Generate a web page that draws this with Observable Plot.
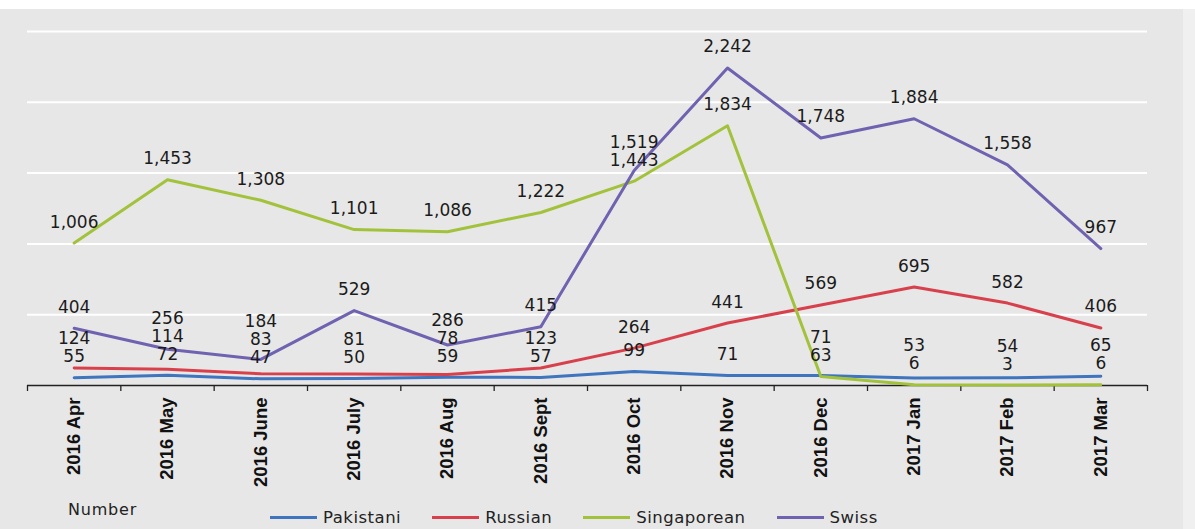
<!DOCTYPE html>
<html><head><meta charset="utf-8">
<script src="https://cdn.jsdelivr.net/npm/d3@7"></script>
<script src="https://cdn.jsdelivr.net/npm/@observablehq/plot@0.6"></script>
<style>
html,body{margin:0;padding:0;}
body{width:1195px;height:529px;background:#e7e7e7;position:relative;overflow:hidden;font-family:"DejaVu Sans",sans-serif;}
#topstrip{position:absolute;left:0;top:0;width:1195px;height:9px;background:#fff;}
#rightstrip{position:absolute;right:0;top:9px;width:12px;height:520px;background:#f0f0f0;}
#chart{position:absolute;left:0;top:0;}
#note{position:absolute;left:68px;top:500px;font-size:16px;color:#222;letter-spacing:0.8px;}
#legend{position:absolute;left:270px;top:508px;display:flex;align-items:center;font-size:16.5px;color:#222;letter-spacing:0.5px;}
.item{display:flex;align-items:center;margin-right:31px;}
.sw{width:47px;height:3px;margin-right:6px;}
</style></head><body>
<div id="topstrip"></div>
<div id="rightstrip"></div>
<div id="chart"></div>
<div id="note">Number</div>
<div id="legend"></div>
<script>
const months = ["2016 Apr","2016 May","2016 June","2016 July","2016 Aug","2016 Sept","2016 Oct","2016 Nov","2016 Dec","2017 Jan","2017 Feb","2017 Mar"];
const pakistani   = [55, 72, 47, 50, 59, 57, 99, 71, 71, 53, 54, 65];
const russian     = [124, 114, 83, 81, 78, 123, 264, 441, 569, 695, 582, 406];
const singaporean = [1006, 1453, 1308, 1101, 1086, 1222, 1443, 1834, 63, 6, 3, 6];
const swiss       = [404, 256, 184, 529, 286, 415, 1519, 2242, 1748, 1884, 1558, 967];
const seriesNames = ["Pakistani", "Russian", "Singaporean", "Swiss"];
const seriesColors = ["#3f74bf", "#d8414c", "#a3c23b", "#6f62b0"];
const gridValues = [500, 1000, 1500, 2000, 2500];

const seriesValues = [pakistani, russian, singaporean, swiss];
const rows = seriesNames.flatMap((s, k) => seriesValues[k].map((v, i) => ({series: s, i, value: v})));

const W = 1195, H = 490, mT = 31, mB = 105, mL = 27, mR = 48;
const yDomain = [0, 2500];
const yPix = d3.scaleLinear(yDomain, [H - mB, mT]);

// stack value labels above their points, avoiding overlap within a month
const labels = [];
months.forEach((m, i) => {
  const items = rows.filter(r => r.i === i).sort((a, b) => a.value - b.value);
  let prev = Infinity;
  for (const r of items) {
    let p = yPix(r.value) - 21;
    if (p > prev - 18) p = prev - 18;
    prev = p;
    labels.push({...r, ly: yPix.invert(p)});
  }
});

const fmt = d3.format(",");
const bounds = d3.range(-0.5, months.length, 1);

const chart = Plot.plot({
  width: W, height: H,
  marginTop: mT, marginBottom: mB, marginLeft: mL, marginRight: mR,
  style: {background: "transparent", fontFamily: "'DejaVu Sans', sans-serif", overflow: "visible"},
  x: {domain: [-0.5, months.length - 0.5], axis: null},
  y: {domain: yDomain, axis: null},
  color: {domain: seriesNames, range: seriesColors},
  marks: [
    Plot.gridY(gridValues, {stroke: "#ffffff", strokeOpacity: 1, strokeWidth: 2}),
    Plot.ruleY([0], {stroke: "#222", strokeWidth: 1.3}),
    Plot.axisX({ticks: bounds, tickSize: 6, fill: "none", stroke: "#222", strokeWidth: 1.3, label: null}),
    Plot.axisX({ticks: d3.range(months.length), tickFormat: i => months[i], tickSize: 0, tickPadding: 12, label: null,
      tickRotate: -90, fontSize: 18.5, fontWeight: "bold", fontFamily: "'Liberation Sans', Arial, sans-serif", fill: "#111"}),
    Plot.lineY(rows, {x: "i", y: "value", z: "series", stroke: "series", strokeWidth: 3}),
    Plot.text(labels, {x: "i", y: "ly", text: d => fmt(d.value), fontSize: 17, fill: "#1b1b1b"})
  ]
});
document.getElementById("chart").appendChild(chart);

const legend = document.getElementById("legend");
seriesNames.forEach((s, k) => {
  const it = document.createElement("div");
  it.className = "item";
  const sw = document.createElement("div");
  sw.className = "sw";
  sw.style.background = seriesColors[k];
  const t = document.createElement("span");
  t.textContent = s;
  it.appendChild(sw); it.appendChild(t);
  legend.appendChild(it);
});
</script>
</body></html>
